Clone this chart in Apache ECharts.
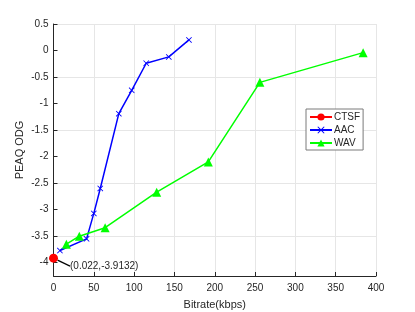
<!DOCTYPE html>
<html><head><meta charset="utf-8">
<script src="https://cdn.jsdelivr.net/npm/echarts@6/dist/echarts.min.js"></script>
<style>html,body{margin:0;padding:0;background:#fff}#c{width:415px;height:312px}</style>
</head><body><div id="c"></div>
<script>
const ctsfX = [0.022];
const ctsfY = [-3.9132];
const aacX = [8, 41, 50, 58, 81, 97, 115, 143, 168];
const aacY = [-3.77, -3.55, -3.07, -2.6, -1.19, -0.75, -0.24, -0.12, 0.2];
const wavX = [16, 32, 64, 128, 192, 256, 384];
const wavY = [-3.65, -3.5, -3.34, -2.67, -2.1, -0.6, -0.04];
const yTicks = [-4, -3.5, -3, -2.5, -2, -1.5, -1, -0.5, 0, 0.5];
const xTicks = [0, 50, 100, 150, 200, 250, 300, 350, 400];

const zip = (a, b) => a.map((v, i) => [v, b[i]]);
const txt = '#262626';
const font = 'Liberation Sans, Arial, Helvetica, sans-serif';
const chart = echarts.init(document.getElementById('c'), null, {renderer: 'canvas'});
chart.setOption({
  animation: false,
  textStyle: {fontFamily: font},
  grid: {left: 53.5, right: 39, top: 24, bottom: 36, containLabel: false, outerBoundsMode: 'none'},
  xAxis: {
    type: 'value', min: 0, max: 400, interval: 50,
    name: 'Bitrate(kbps)', nameLocation: 'middle', nameGap: 23, nameMoveOverlap: false,
    nameTextStyle: {color: txt, fontSize: 11, fontFamily: font},
    axisLine: {show: true, onZero: false, lineStyle: {color: txt, width: 1}},
    axisTick: {show: true, inside: true, length: 4, lineStyle: {color: txt}},
    axisLabel: {color: txt, fontSize: 10, margin: 7, fontFamily: font, customValues: xTicks},
    splitLine: {show: true, lineStyle: {color: '#e6e6e6', width: 1}}
  },
  yAxis: {
    type: 'value', min: -4.25, max: 0.5, interval: 0.25,
    name: 'PEAQ ODG', nameLocation: 'middle', nameGap: 28, nameMoveOverlap: false,
    nameTextStyle: {color: txt, fontSize: 11, fontFamily: font},
    axisLine: {show: true, onZero: false, lineStyle: {color: txt, width: 1}},
    axisTick: {show: true, inside: true, length: 4, lineStyle: {color: txt}, customValues: yTicks},
    axisLabel: {color: txt, fontSize: 10, margin: 5, fontFamily: font, customValues: yTicks,
      formatter: v => String(v)},
    splitLine: {show: true, lineStyle: {color: ['transparent', '#e6e6e6'], width: 1}}
  },
  legend: {
    orient: 'vertical', left: 306, top: 109, width: 54,
    backgroundColor: '#fff', borderColor: '#7a7a7a', borderWidth: 1,
    padding: [3, 3, 2, 3], itemGap: 3, itemWidth: 22, itemHeight: 9,
    textStyle: {color: txt, fontSize: 10, fontFamily: font, padding: [0, 0, 0, -3]},
    data: ['CTSF', 'AAC', 'WAV']
  },
  series: [
    {
      name: 'CTSF', type: 'line', data: zip(ctsfX, ctsfY),
      symbol: 'circle', symbolSize: 9, z: 5,
      itemStyle: {color: '#ff0000'}, lineStyle: {color: '#ff0000', width: 1.5},
      label: {show: true, position: 'right', distance: 5, color: txt, fontSize: 10, fontFamily: font,
        padding: [0, 0, 0, 3],
        formatter: p => '(' + p.value[0] + ',' + p.value[1] + ')'},
      labelLayout: {dx: 4, dy: 8},
      labelLine: {show: true, lineStyle: {color: '#000', width: 1.2}}
    },
    {
      name: 'AAC', type: 'line', data: zip(aacX, aacY),
      symbol: 'path://M0,1L1,0L5,4L9,0L10,1L6,5L10,9L9,10L5,6L1,10L0,9L4,5Z', symbolSize: 6,
      itemStyle: {color: '#0000ff'}, lineStyle: {color: '#0000ff', width: 1.5}
    },
    {
      name: 'WAV', type: 'line', data: zip(wavX, wavY),
      symbol: 'triangle', symbolSize: 9,
      itemStyle: {color: '#00ff00'}, lineStyle: {color: '#00ff00', width: 1.5}
    }
  ]
});
</script></body></html>
